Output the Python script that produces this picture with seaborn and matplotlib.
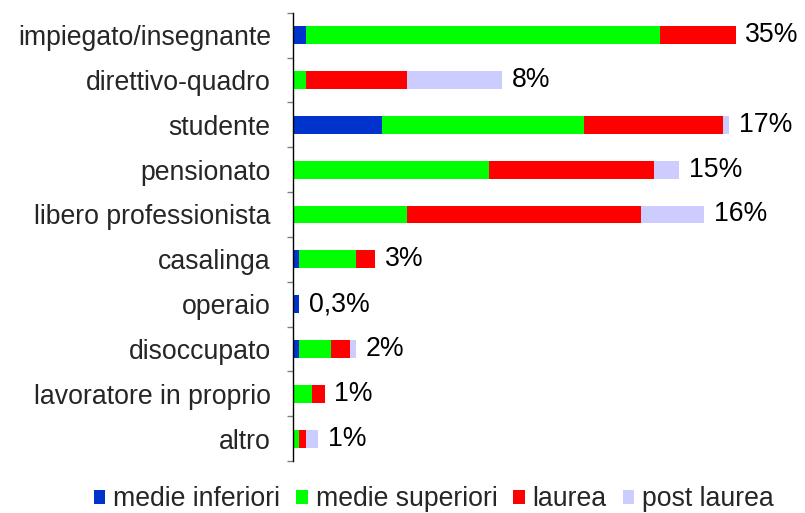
import numpy as np
import pandas as pd
import seaborn as sns
import matplotlib
matplotlib.use('Agg')
import matplotlib.pyplot as plt
from matplotlib.patches import Patch

# Data
categories = ["impiegato/insegnante", "direttivo-quadro", "studente", "pensionato",
              "libero professionista", "casalinga", "operaio", "disoccupato",
              "lavoratore in proprio", "altro"]
medie_inferiori = [2, 0, 14, 0, 0, 1, 1, 1, 0, 0]
medie_superiori = [56, 2, 32, 31, 18, 9, 0, 5, 3, 1]
laurea = [12, 16, 22, 26, 37, 3, 0, 3, 2, 1]
post_laurea = [0, 15, 1, 4, 10, 0, 0, 1, 0, 2]
share_labels = ["35%", "8%", "17%", "15%", "16%", "3%", "0,3%", "2%", "1%", "1%"]

series_names = ["medie inferiori", "medie superiori", "laurea", "post laurea"]
series_colors = ["#0033CC", "#00FF00", "#FF0000", "#CCCCFF"]

sns.set_style("white")
plt.rcParams['font.family'] = ['Liberation Sans', 'DejaVu Sans']
FS = 19.2

df = pd.DataFrame({
    "categoria": categories,
    series_names[0]: medie_inferiori,
    series_names[1]: medie_superiori,
    series_names[2]: laurea,
    series_names[3]: post_laurea,
})
cum = df[series_names].cumsum(axis=1)

fig = plt.figure(figsize=(8.05, 5.13), dpi=100)
ax = fig.add_axes([293 / 805, 0.1014, 487 / 805, 0.8737])

# stacked bars: draw cumulative totals from the outermost series inwards
for name, color in reversed(list(zip(series_names, series_colors))):
    sns.barplot(x=cum[name], y=df["categoria"], color=color, width=0.4,
                linewidth=0, saturation=1, ax=ax, orient="h")

totals = cum[series_names[-1]]
for i, (tot, lab) in enumerate(zip(totals, share_labels)):
    ax.annotate(lab, xy=(tot, i), xytext=(7, 0), textcoords="offset points",
                ha="left", va="center", fontsize=FS, color="black")

ax.set_xlim(0, 77)
ax.set_ylim(len(categories) - 0.5, -0.5)
ax.set_xlabel("")
ax.set_ylabel("")
ax.set_xticks([])

for side in ["top", "right", "bottom"]:
    ax.spines[side].set_visible(False)
ax.spines["left"].set_color("black")
ax.spines["left"].set_linewidth(1)

ax.set_yticks(np.arange(len(categories)))
ax.set_yticklabels(categories)
ax.tick_params(axis="y", which="major", length=0, pad=16, labelsize=FS)
ax.set_yticks(np.arange(len(categories) + 1) - 0.5, minor=True)
ax.tick_params(axis="y", which="minor", length=4.5, width=1, color="#808080",
               direction="out", left=True)

handles = [Patch(facecolor=c, edgecolor="none", label=n)
           for n, c in zip(series_names, series_colors)]
fig.legend(handles=handles, loc="center", bbox_to_anchor=(0.539, 0.027), ncol=4,
           frameon=False, fontsize=FS, handlelength=0.42, handleheight=0.42,
           handletextpad=0.3, columnspacing=0.6, borderaxespad=0, borderpad=0)

fig.savefig("out.png", dpi=100)
